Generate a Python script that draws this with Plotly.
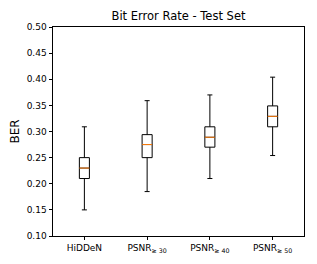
import plotly.graph_objects as go

categories = ["HiDDeN", "PSNR<sub>≥ 30</sub>", "PSNR<sub>≥ 40</sub>", "PSNR<sub>≥ 50</sub>"]
lower_whisker = [0.150, 0.185, 0.210, 0.254]
q1 = [0.210, 0.250, 0.270, 0.309]
median = [0.230, 0.275, 0.289, 0.329]
q3 = [0.250, 0.294, 0.309, 0.349]
upper_whisker = [0.309, 0.359, 0.370, 0.404]
y_ticks = [0.10, 0.15, 0.20, 0.25, 0.30, 0.35, 0.40, 0.45, 0.50]

positions = list(range(1, len(categories) + 1))
box_width = 0.16

fig = go.Figure()
for i, p in enumerate(positions):
    fig.add_trace(go.Box(
        x=[p], q1=[q1[i]], median=[median[i]], q3=[q3[i]],
        lowerfence=[lower_whisker[i]], upperfence=[upper_whisker[i]],
        width=box_width, whiskerwidth=0.5,
        line=dict(color="black", width=1), fillcolor="rgba(0,0,0,0)",
        boxpoints=False, showlegend=False, hoverinfo="skip",
    ))
    fig.add_trace(go.Scatter(
        x=[p - box_width / 2, p + box_width / 2], y=[median[i], median[i]],
        mode="lines", line=dict(color="#ff7f0e", width=1),
        showlegend=False, hoverinfo="skip",
    ))

# the page body has an 8px default margin, so the figure is sized to fill the rest of the window
fig.update_layout(
    width=309, height=256,
    margin=dict(l=45, r=13, t=19, b=28),
    plot_bgcolor="white", paper_bgcolor="white",
    font=dict(family="DejaVu Sans", size=9, color="black"),
    title=dict(text="Bit Error Rate - Test Set", x=0.5, xanchor="center",
               xref="paper", y=1, yref="container", yanchor="top", pad=dict(t=4),
               font=dict(size=11.5)),
)
fig.update_xaxes(
    range=[0.5, 4.5], tickmode="array", tickvals=positions, ticktext=categories,
    showgrid=False, zeroline=False, showline=True, mirror=True, automargin=False,
    linecolor="black", linewidth=1, ticks="outside", ticklen=3, tickcolor="black",
    tickfont=dict(size=9),
)
fig.update_yaxes(
    range=[0.10, 0.50], tickmode="array", tickvals=y_ticks,
    ticktext=[f"{v:.2f}" for v in y_ticks], automargin=False,
    showgrid=False, zeroline=False, showline=True, mirror=True,
    linecolor="black", linewidth=1, ticks="outside", ticklen=3.5, tickcolor="black",
    tickfont=dict(size=9),
    title=dict(text="BER", font=dict(size=12), standoff=8),
)

fig.write_html("out.html")
